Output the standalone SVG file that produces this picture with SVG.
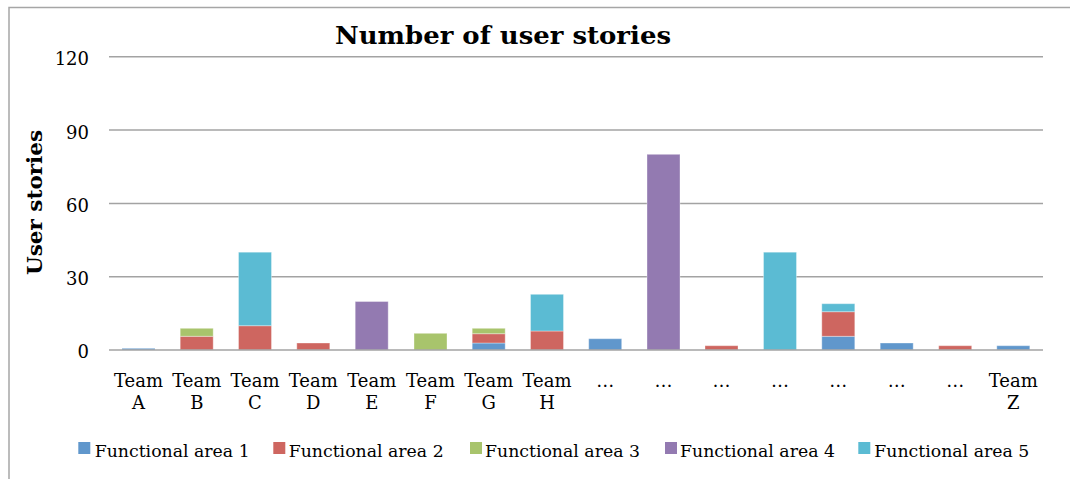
<svg xmlns="http://www.w3.org/2000/svg" width="1070" height="479" viewBox="0 0 1070 479">
  <style>
    text { font-family: "DejaVu Serif", "Liberation Serif", serif; fill: #000; }
    .title { font-size: 25px; font-weight: bold; }
    .ytitle { font-size: 20px; font-weight: bold; }
    .tick { font-size: 18px; text-anchor: end; }
    .cat { font-size: 18px; text-anchor: middle; }
    .leg { font-size: 17.5px; }
    .grid { stroke: #A3A3A3; stroke-width: 1.5; fill: none; }
    .fa1 { fill: #6097CC; }
    .fa2 { fill: #CE6660; }
    .fa3 { fill: #A8C46C; }
    .fa4 { fill: #937AB1; }
    .fa5 { fill: #5BBBD3; }
    .bar rect { stroke: #ffffff; stroke-opacity: 0.35; stroke-width: 1; }
  </style>

  <rect x="0" y="0" width="1070" height="479" fill="#ffffff"/>
  <!-- chart frame -->
  <rect x="9" y="7.5" width="1100" height="500" fill="none" stroke="#A6A6A6" stroke-width="1.5"/>

  <text class="title" x="503" y="44.3" text-anchor="middle" textLength="336" lengthAdjust="spacingAndGlyphs">Number of user stories</text>

  <!-- value axis -->
  <g id="value-axis">
    <line class="grid" x1="109" y1="56.7" x2="1043" y2="56.7"/>
    <line class="grid" x1="109" y1="130.1" x2="1043" y2="130.1"/>
    <line class="grid" x1="109" y1="203.4" x2="1043" y2="203.4"/>
    <line class="grid" x1="109" y1="276.7" x2="1043" y2="276.7"/>
    <text class="tick" x="89" y="65">120</text>
    <text class="tick" x="89" y="138.5">90</text>
    <text class="tick" x="89" y="211.8">60</text>
    <text class="tick" x="89" y="285.1">30</text>
    <text class="tick" x="89" y="358.4">0</text>
    <text class="ytitle" transform="translate(41.5 202.5) rotate(-90)" text-anchor="middle" textLength="145" lengthAdjust="spacingAndGlyphs">User stories</text>
  </g>

  <!-- stacked bars, one group per team -->
  <g id="team-a" class="bar">
    <rect class="fa1" x="122" y="348.3" width="33" height="1.7"/>
  </g>
  <g id="team-b" class="bar">
    <rect class="fa2" x="180.2" y="336.3" width="33" height="13.7"/>
    <rect class="fa3" x="180.2" y="328.3" width="33" height="8"/>
  </g>
  <g id="team-c" class="bar">
    <rect class="fa2" x="238.5" y="325.7" width="33" height="24.3"/>
    <rect class="fa5" x="238.5" y="252.2" width="33" height="73.5"/>
  </g>
  <g id="team-d" class="bar">
    <rect class="fa2" x="296.8" y="343" width="33" height="7"/>
  </g>
  <g id="team-e" class="bar">
    <rect class="fa4" x="355.2" y="301.5" width="33" height="48.5"/>
  </g>
  <g id="team-f" class="bar">
    <rect class="fa3" x="414" y="333.3" width="33" height="16.7"/>
  </g>
  <g id="team-g" class="bar">
    <rect class="fa1" x="472.2" y="343" width="33" height="7"/>
    <rect class="fa2" x="472.2" y="333.7" width="33" height="9.3"/>
    <rect class="fa3" x="472.2" y="328.3" width="33" height="5.4"/>
  </g>
  <g id="team-h" class="bar">
    <rect class="fa2" x="530.5" y="331" width="33" height="19"/>
    <rect class="fa5" x="530.5" y="294.3" width="33" height="36.7"/>
  </g>
  <g id="team-9" class="bar">
    <rect class="fa1" x="588.7" y="338.7" width="33" height="11.3"/>
  </g>
  <g id="team-10" class="bar">
    <rect class="fa4" x="647" y="154.3" width="33" height="195.7"/>
  </g>
  <g id="team-11" class="bar">
    <rect class="fa2" x="705" y="345.7" width="33" height="4.3"/>
  </g>
  <g id="team-12" class="bar">
    <rect class="fa5" x="763.5" y="252.2" width="33" height="97.8"/>
  </g>
  <g id="team-13" class="bar">
    <rect class="fa1" x="821.8" y="336.3" width="33" height="13.7"/>
    <rect class="fa2" x="821.8" y="311.7" width="33" height="24.6"/>
    <rect class="fa5" x="821.8" y="303.7" width="33" height="8"/>
  </g>
  <g id="team-14" class="bar">
    <rect class="fa1" x="880.2" y="343" width="33" height="7"/>
  </g>
  <g id="team-15" class="bar">
    <rect class="fa2" x="938.7" y="345.7" width="33" height="4.3"/>
  </g>
  <g id="team-z" class="bar">
    <rect class="fa1" x="996.8" y="345.7" width="33" height="4.3"/>
  </g>

  <!-- category axis -->
  <g id="category-axis">
    <line class="grid" x1="109" y1="350" x2="1043" y2="350"/>
    <text class="cat" x="138.5" y="386.7">Team</text><text class="cat" x="138.5" y="409.3">A</text>
    <text class="cat" x="196.8" y="386.7">Team</text><text class="cat" x="196.8" y="409.3">B</text>
    <text class="cat" x="255" y="386.7">Team</text><text class="cat" x="255" y="409.3">C</text>
    <text class="cat" x="313.3" y="386.7">Team</text><text class="cat" x="313.3" y="409.3">D</text>
    <text class="cat" x="371.7" y="386.7">Team</text><text class="cat" x="371.7" y="409.3">E</text>
    <text class="cat" x="430.5" y="386.7">Team</text><text class="cat" x="430.5" y="409.3">F</text>
    <text class="cat" x="488.7" y="386.7">Team</text><text class="cat" x="488.7" y="409.3">G</text>
    <text class="cat" x="547" y="386.7">Team</text><text class="cat" x="547" y="409.3">H</text>
    <text class="cat" x="605.2" y="386.7">…</text>
    <text class="cat" x="663.5" y="386.7">…</text>
    <text class="cat" x="721.5" y="386.7">…</text>
    <text class="cat" x="780" y="386.7">…</text>
    <text class="cat" x="838.3" y="386.7">…</text>
    <text class="cat" x="896.7" y="386.7">…</text>
    <text class="cat" x="955.3" y="386.7">…</text>
    <text class="cat" x="1013.3" y="386.7">Team</text><text class="cat" x="1013.3" y="409.3">Z</text>
  </g>

  <!-- legend -->
  <g id="legend">
    <rect class="fa1" x="78.3" y="442" width="12" height="12"/>
    <text class="leg" x="94.7" y="456.7" textLength="155" lengthAdjust="spacingAndGlyphs">Functional area 1</text>
    <rect class="fa2" x="273.3" y="442" width="12" height="12"/>
    <text class="leg" x="288.7" y="456.7" textLength="155" lengthAdjust="spacingAndGlyphs">Functional area 2</text>
    <rect class="fa3" x="470" y="442" width="12" height="12"/>
    <text class="leg" x="485" y="456.7" textLength="155" lengthAdjust="spacingAndGlyphs">Functional area 3</text>
    <rect class="fa4" x="665" y="442" width="12" height="12"/>
    <text class="leg" x="680" y="456.7" textLength="155" lengthAdjust="spacingAndGlyphs">Functional area 4</text>
    <rect class="fa5" x="858.3" y="442" width="12" height="12"/>
    <text class="leg" x="874.3" y="456.7" textLength="155" lengthAdjust="spacingAndGlyphs">Functional area 5</text>
  </g>
</svg>
